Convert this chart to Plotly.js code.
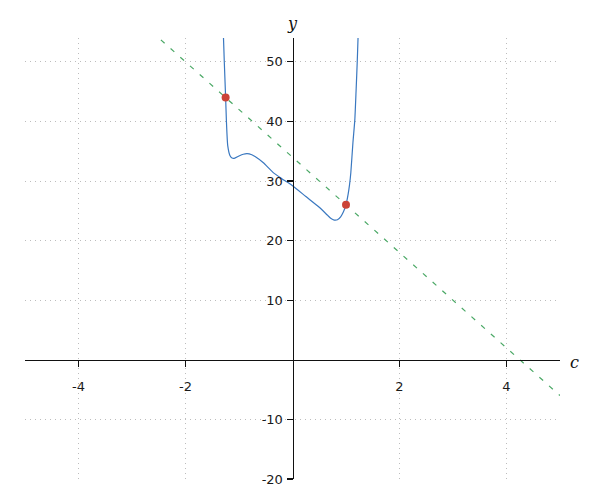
<!DOCTYPE html>
<html>
<head>
<meta charset="utf-8">
<script src="https://cdn.plot.ly/plotly-3.0.1.min.js"></script>
<style>html,body{margin:0;padding:0;background:#fff;}#chart{width:600px;height:500px;}</style>
</head>
<body>
<div id="chart"></div>
<script>
// curve values
var curveC = [-1.31, -1.29, -1.275, -1.25, -1.235, -1.21, -1.17, -1.13, -1.09, -1.0, -0.92, -0.85, -0.76, -0.70, -0.55, -0.37, -0.20, 0.0, 0.25, 0.50, 0.65, 0.72, 0.78, 0.84, 0.90, 0.95, 1.00, 1.04, 1.065, 1.09, 1.13, 1.165, 1.19, 1.21, 1.225, 1.235];
var curveY = [58, 54, 50, 44, 40, 35.9, 34.3, 33.85, 33.8, 34.2, 34.5, 34.6, 34.4, 34.1, 33.1, 31.5, 30.4, 29.2, 27.4, 25.6, 24.3, 23.7, 23.45, 23.5, 24.0, 24.8, 26.0, 27.8, 29.3, 31.4, 36.5, 40.3, 45.5, 50.0, 54.0, 57];
// secant line endpoints
var secantC = [-5, 5];
var secantY = [74, -6];
// marked points
var ptC = [-1.25, 1.0];
var ptY = [44, 26];
var xTicks = [-4, -2, 2, 4];
var yTicks = [-20, -10, 10, 20, 30, 40, 50];

var traces = [
  {x: secantC, y: secantY, mode: 'lines', line: {color: '#4aa865', width: 1.2, dash: '5px,8px'}, hoverinfo: 'skip'},
  {x: curveC, y: curveY, mode: 'lines', line: {color: '#3a78c0', width: 1.2, shape: 'spline', smoothing: 0.6}, hoverinfo: 'skip'},
  {x: ptC, y: ptY, mode: 'markers', marker: {color: '#cc4338', size: 8}, cliponaxis: false}
];

var axisCommon = {
  showline: true, linecolor: '#111', linewidth: 1.2,
  zeroline: false,
  showgrid: true, gridcolor: '#bdbdbd', griddash: '1px,4px', gridwidth: 1,
  ticks: 'outside', ticklen: 6, tickcolor: '#111', tickwidth: 1.2,
  tickfont: {family: 'DejaVu Sans', size: 13, color: '#1a1a1a'},
  tickmode: 'array', anchor: 'free'
};

var layout = {
  width: 600, height: 500,
  margin: {l: 25, r: 40, t: 38, b: 21},
  paper_bgcolor: '#fff', plot_bgcolor: '#fff',
  showlegend: false,
  xaxis: Object.assign({}, axisCommon, {range: [-5, 5], tickvals: xTicks, ticktext: xTicks.map(String), position: 20/74, ticklabelstandoff: 8}),
  yaxis: Object.assign({}, axisCommon, {range: [-20, 54], tickvals: yTicks, ticktext: yTicks.map(String), position: 0.5, ticklabelstandoff: 1}),
  annotations: [
    {text: 'y', xref: 'x', yref: 'paper', x: 0, y: 1, yanchor: 'bottom', xanchor: 'center', yshift: 3, showarrow: false, font: {family: 'DejaVu Serif', size: 16, color: '#111', style: 'italic'}},
    {text: 'c', xref: 'paper', yref: 'y', x: 1, y: 0, xanchor: 'left', yanchor: 'middle', xshift: 8, yshift: -3, showarrow: false, font: {family: 'DejaVu Serif', size: 16, color: '#111', style: 'italic'}}
  ]
};

Plotly.newPlot('chart', traces, layout, {staticPlot: true, displayModeBar: false});
</script>
</body>
</html>
